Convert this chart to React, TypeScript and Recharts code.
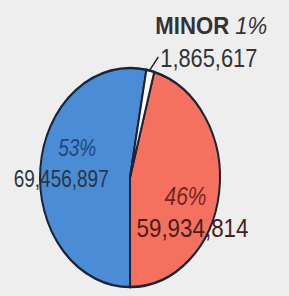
import { Cell, Pie, PieChart } from "recharts";

const categories = ["Red", "Blue", "MINOR"];
const values = [59934814, 69456897, 1865617];
const colors = ["#f4715f", "#4a8cd6", "#ffffff"];

const K = 1.217; // vertical stretch, the reference pie is an ellipse
const RAD = Math.PI / 180;

const data = categories.map((name, i) => ({ name, value: values[i] }));

const font = "'Liberation Sans', sans-serif";

function renderLabel(props: any) {
  const { cx, cy, midAngle, outerRadius, index, value, percent } = props;
  const pct = `${Math.round(percent * 100)}%`;
  const num = Number(value).toLocaleString("en-US");
  const r = index === 2 ? outerRadius : outerRadius * 0.6;
  const x = cx + Math.cos(-midAngle * RAD) * r;
  const y = cy + Math.sin(-midAngle * RAD) * r;
  const tf = `translate(${x},${y}) scale(1,${1 / K})`;

  if (index === 2) {
    return (
      <g transform={tf}>
        <line x1={-1} y1={0} x2={8} y2={-14} stroke="#1b2434" strokeWidth={1.5} />
        <text x={5} y={-37} fontFamily={font} fontSize={23} fontWeight={700} fill="#333" textLength={112} lengthAdjust="spacingAndGlyphs">
          MINOR <tspan fontStyle="italic" fontWeight={400}>{pct}</tspan>
        </text>
        <text x={10} y={-4} fontFamily={font} fontSize={26} fill="#333" textLength={97} lengthAdjust="spacingAndGlyphs">
          {num}
        </text>
      </g>
    );
  }
  const red = index === 0;
  return (
    <g transform={tf}>
      <text
        x={red ? 2 : 1}
        y={red ? 19 : -16}
        textAnchor="middle"
        fontFamily={font}
        fontStyle="italic"
        fontSize={red ? 26 : 24}
        fill={red ? "#7a1f1f" : "#24457c"}
        textLength={red ? 42 : 38}
        lengthAdjust="spacingAndGlyphs"
      >
        {pct}
      </text>
      <text
        x={red ? 9 : -15}
        y={red ? 51 : 15}
        textAnchor="middle"
        fontFamily={font}
        fontSize={red ? 26 : 24}
        fill={red ? "#4a1c1c" : "#2b3545"}
        textLength={red ? 112 : 95}
        lengthAdjust="spacingAndGlyphs"
      >
        {num}
      </text>
    </g>
  );
}

export default function App() {
  return (
    <div style={{ position: "fixed", left: 0, top: 0, width: 289, height: 296, background: "#eeeeee", overflow: "hidden" }}>
      <div style={{ transform: `scaleY(${K})`, transformOrigin: "0 177.5px" }}>
        <PieChart width={289} height={296}>
          <Pie
            data={data}
            dataKey="value"
            cx={125}
            cy={172.5}
            outerRadius={90}
            startAngle={74.4}
            endAngle={-285.6}
            stroke="#1b2434"
            strokeWidth={2}
            label={renderLabel}
            labelLine={false}
            isAnimationActive={false}
          >
            {data.map((d, i) => (
              <Cell key={d.name} fill={colors[i]} />
            ))}
          </Pie>
        </PieChart>
      </div>
    </div>
  );
}
